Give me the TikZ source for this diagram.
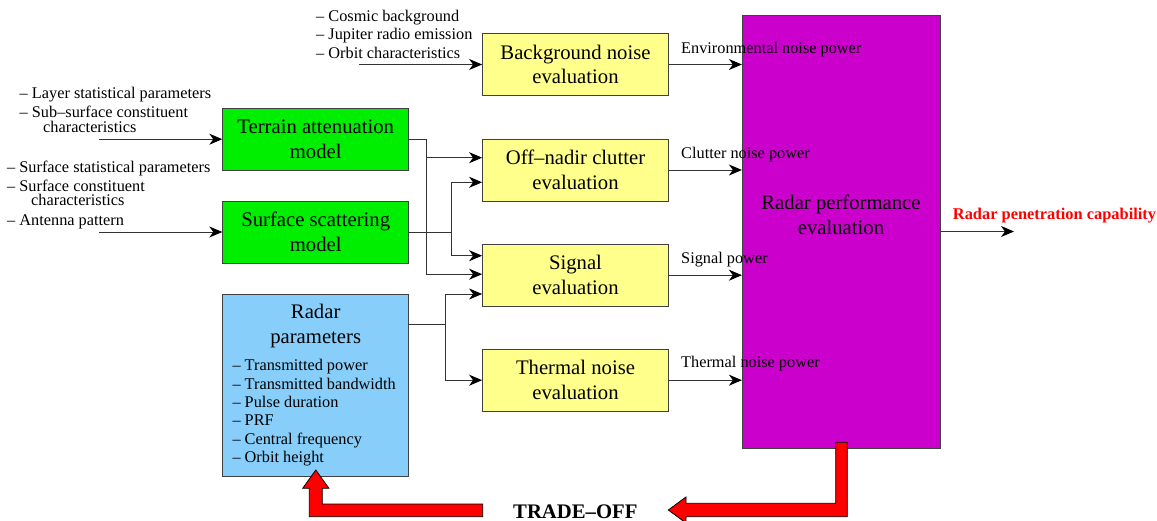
\documentclass[tikz,border=0pt]{standalone}
\usepackage{fontspec}
\setmainfont{Liberation Serif}
\usetikzlibrary{arrows.meta}
\definecolor{boxgreen}{RGB}{0,238,0}
\definecolor{boxyellow}{RGB}{255,255,140}
\definecolor{boxblue}{RGB}{135,206,250}
\definecolor{boxpurple}{RGB}{204,0,204}
\begin{document}
\begin{tikzpicture}[x=1pt,y=-1pt,
  blk/.style={draw=black!75, line width=0.8pt, minimum width=186pt, minimum height=62pt, align=center, inner sep=0pt, font=\fontsize{20.7}{24.8}\selectfont},
  btxt/.style={align=center, inner sep=0pt, font=\fontsize{20.7}{24.8}\selectfont},
  small/.style={font=\fontsize{16.3}{18.5}\selectfont, inner sep=0pt, anchor=base west},
  arr/.style={draw=black!80, line width=0.9pt, -{Stealth[length=13pt,width=11pt,inset=4pt,fill=black,color=black]}},
  ln/.style={draw=black!80, line width=0.9pt},
  trade/.style={fill=red, draw=black, line width=0.8pt}]
\useasboundingbox (0,0) rectangle (1157,521);

% purple box
\node[draw=black!75, line width=0.8pt, fill=boxpurple, minimum width=198pt, minimum height=433pt, inner sep=0pt] (perf) at (841.3,231.5) {};
\node[btxt] (perft) at (841,214.7) {Radar performance\\evaluation};

% evaluation boxes
\node[blk, fill=boxyellow] (bg) at (575.5,64.5) {Background noise\\evaluation};
\node[blk, fill=boxyellow] (clut) at (575.5,170) {Off–nadir clutter\\evaluation};
\node[blk, fill=boxyellow] (sig) at (575.5,275.2) {Signal\\evaluation};
\node[blk, fill=boxyellow] (therm) at (575.5,380.2) {Thermal noise\\evaluation};

% models
\node[blk, fill=boxgreen] (terr) at (315.7,139.2) {Terrain attenuation\\model};
\node[blk, fill=boxgreen] (surf) at (315.7,232) {Surface scattering\\model};

% radar parameters
\node[blk, fill=boxblue, minimum height=182pt] (rad) at (315.7,385) {};
\node[btxt] (radt) at (315.7,326.3) {Radar\\parameters};
\node[small] (rp1) at (232.3,370.7) {– Transmitted power};
\node[small] (rp2) at (232.3,389.1) {– Transmitted bandwidth};
\node[small] (rp3) at (232.3,407.5) {– Pulse duration};
\node[small] (rp4) at (232.3,425.9) {– PRF};
\node[small] (rp5) at (232.3,444.3) {– Central frequency};
\node[small] (rp6) at (232.3,462.7) {– Orbit height};

% input lists
\node[small] (c1) at (316,21.7) {– Cosmic background};
\node[small] (c2) at (316,40) {– Jupiter radio emission};
\node[small] (c3) at (316,58.3) {– Orbit characteristics};
\node[small] (l1) at (19.5,99) {– Layer statistical parameters};
\node[small] (l2) at (19.5,118) {– Sub–surface constituent};
\node[small] (l3) at (43,132.3) {characteristics};
\node[small] (s1) at (7,172.7) {– Surface statistical parameters};
\node[small] (s2) at (7,191.7) {– Surface constituent};
\node[small] (s3) at (31,206) {characteristics};
\node[small] (s4) at (7,225.7) {– Antenna pattern};

% inputs
\coordinate (bgin) at (359,64.5);
\coordinate (terrin) at (99,139.2);
\coordinate (surfin) at (99,232);
\draw[arr] (bgin) -- (bg.west);
\draw[arr] (terrin) -- (terr.west);
\draw[arr] (surfin) -- (surf.west);

% junctions
\coordinate (tj) at (426.7,139.2);
\draw[ln] (terr.east) -- (tj);
\draw[arr] (tj) |- ([yshift=12.3pt]clut.west);
\draw[arr] (tj) |- ([yshift=1pt]sig.west);
\coordinate (sj) at (451.7,232);
\draw[ln] (surf.east) -- (sj);
\draw[arr] (sj) |- ([yshift=-12.3pt]clut.west);
\draw[arr] (sj) |- ([yshift=19.5pt]sig.west);
\coordinate (rj) at (445.3,324.3);
\draw[ln] (rad.east |- rj) -- (rj);
\draw[arr] (rj) |- ([yshift=-18.8pt]sig.west);
\draw[arr] (rj) |- (therm.west);

% outputs to performance box
\draw[arr] (bg.east) -- (bg.east -| perf.west);
\draw[arr] (clut.east) -- (clut.east -| perf.west);
\draw[arr] (sig.east) -- (sig.east -| perf.west);
\draw[arr] (therm.east) -- (therm.east -| perf.west);
\node[small] (lenv) at (681,53.3) {Environmental noise power};
\node[small] (lclut) at (681,158.3) {Clutter noise power};
\node[small] (lsig) at (681,263.3) {Signal power};
\node[small] (ltherm) at (681,367.5) {Thermal noise power};

% final output
\coordinate (out) at (1014,231.5);
\draw[arr] (perf.east) -- (out);
\node[small, font=\fontsize{16.4}{18.5}\selectfont\bfseries, text=red] (lout) at (952.7,220) {Radar penetration capability};

% trade-off arrows
\draw[trade] (835.7,442.3) -- (847.3,442.3) -- (847.3,516.7) -- (686,516.7) -- (686,523) -- (668.3,510) -- (686,497) -- (686,503.3) -- (835.7,503.3) -- cycle;
\draw[trade] (482.7,504) -- (482.7,516.7) -- (309.3,516.7) -- (309.3,488.3) -- (302.7,488.3) -- (315.8,470) -- (328.9,488.3) -- (322.3,488.3) -- (322.3,504) -- cycle;
\node[anchor=base west, inner sep=0pt, font=\fontsize{20.7}{24}\selectfont\bfseries] (tradeoff) at (513,518) {TRADE–OFF};
\end{tikzpicture}
\end{document}
